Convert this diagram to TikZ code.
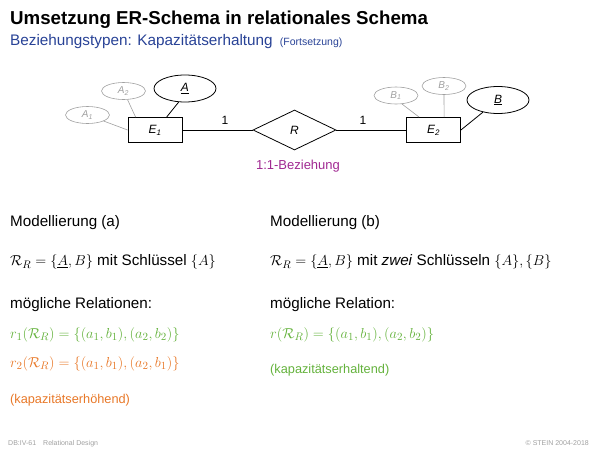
\documentclass[tikz,border=0pt]{standalone}
\usepackage{fontspec}
\setmainfont{Liberation Sans}
\usetikzlibrary{shapes.geometric}
\definecolor{titleblue}{RGB}{40,66,150}
\definecolor{erpurple}{RGB}{160,40,145}
\definecolor{relgreen}{RGB}{100,178,60}
\definecolor{relorange}{RGB}{232,120,40}
\definecolor{attgray}{RGB}{160,160,160}
\newcommand\fs[1]{\fontsize{#1}{#1}\selectfont}
\begin{document}
\begin{tikzpicture}[x=1pt,y=-1pt,
  ent/.style={draw, line width=0.8pt, minimum width=54pt, minimum height=25pt, inner sep=0pt, font=\fs{12}\itshape},
  rel/.style={draw, diamond, line width=0.8pt, minimum width=83pt, minimum height=40pt, inner sep=0pt, font=\fs{12}\itshape},
  keyatt/.style={draw, ellipse, line width=0.8pt, minimum width=62pt, minimum height=27pt, inner sep=0pt, font=\fs{12}\itshape},
  att/.style={draw=attgray, ellipse, line width=0.6pt, minimum width=44pt, minimum height=17pt, inner sep=0pt, text=attgray, font=\fs{10}\itshape},
  attline/.style={draw=attgray, line width=0.6pt},
  conn/.style={line width=0.8pt},
  txt/.style={anchor=base west, inner sep=0pt, font=\fs{15.2}},
  note/.style={anchor=base west, inner sep=0pt, font=\fs{12.75}},
  card/.style={font=\fs{12}, inner sep=0pt}
]
\useasboundingbox (0,0) rectangle (600,450);
% title
\node[anchor=base west, inner sep=0pt, font=\fs{18.7}\bfseries] (title) at (10,24.5) {Umsetzung ER-Schema in relationales Schema};
\node[anchor=base west, inner sep=0pt, font=\fs{15.3}, text=titleblue] (sub) at (10,45) {Beziehungstypen: Kapazitätserhaltung {\fs{10.5}\ (Fortsetzung)}};
% ER diagram
\node[ent] (E1) at (155,130) {E\textsubscript{1}};
\node[rel] (R) at (294.5,130) {R};
\node[ent] (E2) at (433.5,130) {E\textsubscript{2}};
\node[keyatt] (A) at (185,88.5) {\underline{A}};
\node[att] (A2) at (123.5,91) {A\textsubscript{2}};
\node[att] (A1) at (87.5,115) {A\textsubscript{1}};
\node[att] (B1) at (396,95.5) {B\textsubscript{1}};
\node[att] (B2) at (444,86) {B\textsubscript{2}};
\node[keyatt] (B) at (498,100) {\underline{B}};
\draw[attline] (A1) -- (E1.west);
\draw[attline] (A2.-65) -- ([xshift=8pt]E1.north west);
\draw[conn] (A.-115) -- ([xshift=39pt]E1.north west);
\draw[attline] (B1.-55) -- ([xshift=13pt]E2.north west);
\draw[attline] (B2.south) -- ([xshift=38pt]E2.north west);
\draw[conn] (B) -- (E2.east);
\draw[conn] (E1) -- (R);
\draw[conn] (R) -- (E2);
\node[card] (c1) at (225,120) {1};
\node[card] (c2) at (363,120) {1};
\node[font=\fs{13}, text=erpurple, inner sep=0pt] (bez) at (298,166) {1:1-Beziehung};
% left column
\node[txt] (ma) at (10,226) {Modellierung (a)};
\node[txt] (ra) at (10,265.5) {$\mathcal{R}_R=\{\underline{A},B\}$ mit Schlüssel $\{A\}$};
\node[txt] (mra) at (10,308) {mögliche Relationen:};
\node[txt, text=relgreen] (r1) at (10,338) {$r_1(\mathcal{R}_R)=\{(a_1,b_1),(a_2,b_2)\}$};
\node[txt, text=relorange] (r2) at (10,367) {$r_2(\mathcal{R}_R)=\{(a_1,b_1),(a_2,b_1)\}$};
\node[note, text=relorange] (ka) at (10,403) {(kapazitätserhöhend)};
% right column
\node[txt] (mb) at (270,226) {Modellierung (b)};
\node[txt] (rb) at (270,265.5) {$\mathcal{R}_R=\{\underline{A},B\}$ mit \textit{zwei} Schlüsseln $\{A\},\{B\}$};
\node[txt] (mrb) at (270,308) {mögliche Relation:};
\node[txt, text=relgreen] (r) at (270,338) {$r(\mathcal{R}_R)=\{(a_1,b_1),(a_2,b_2)\}$};
\node[note, text=relgreen] (kb) at (270,373) {(kapazitätserhaltend)};
% footer
\node[anchor=base west, inner sep=0pt, font=\fs{7}, text=attgray] (f1) at (8,445) {DB:IV-61\quad Relational Design};
\node[anchor=base east, inner sep=0pt, font=\fs{7}, text=attgray] (f2) at (589,445) {© STEIN 2004-2018};
\end{tikzpicture}
\end{document}
